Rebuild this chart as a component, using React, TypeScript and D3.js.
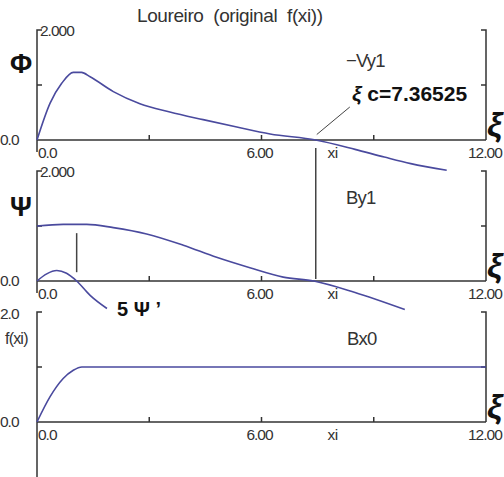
import React, { useEffect, useRef } from 'react';
import * as d3 from 'd3';

// -Vy1 (panel Phi)
const vy1Xi = [0, 0.35, 0.66, 0.97, 1.19, 1.42, 2.04, 2.75, 3.55, 4.44, 5.34, 6.23, 7.45, 8.5, 9.28, 9.99, 10.95];
const vy1Val = [0, 0.67, 1.03, 1.23, 1.23, 1.15, 0.88, 0.66, 0.51, 0.37, 0.235, 0.11, 0, -0.17, -0.31, -0.43, -0.55];

// By1 (panel Psi)
const by1Xi = [0, 0.7, 1.33, 2.04, 2.93, 3.91, 4.8, 5.69, 6.58, 7.4, 8.5, 9.83];
const by1Val = [1.0, 1.03, 1.03, 0.97, 0.855, 0.65, 0.43, 0.24, 0.07, 0, -0.21, -0.52];

// 5 Psi'
const psiP5Xi = [0, 0.26, 0.53, 0.79, 1.06, 1.42, 1.87];
const psiP5Val = [0, 0.13, 0.19, 0.14, 0, -0.26, -0.5];

// Bx0 = f(xi)
const fXi = [0, 0.35, 0.7, 0.97, 1.2, 12];
const fVal = [0, 0.46, 0.79, 0.94, 1.0, 1.0];

const xiC = 7.36525;
const crossMarkXi = 7.45; // where the vertical marker sits in the picture
const peakMarkXi = 1.06;
const xTicks = [3, 6, 9];

const W = 504;
const H = 477;

const App: React.FC = () => {
  const svgRef = useRef<SVGSVGElement | null>(null);

  useEffect(() => {
    if (!svgRef.current) return;
    const svg = d3.select(svgRef.current);
    svg.selectAll('*').remove();

    const x = d3.scaleLinear().domain([0, 12]).range([37, 486]);
    const tops = [30, 171, 312];
    const ph = 110;
    const ys = tops.map(t => d3.scaleLinear().domain([0, 2]).range([t + ph, t]));

    const axisColor = '#333';
    const curveColor = '#4a4a9e';
    const font = '"Liberation Sans", Arial, sans-serif';

    const line = (ys: d3.ScaleLinear<number, number>) =>
      d3.line<[number, number]>()
        .x(d => x(d[0]))
        .y(d => ys(d[1]))
        .curve(d3.curveMonotoneX);

    const txt = (px: number, py: number, s: string, size: number, opts: any = {}) => {
      const t = svg.append('text')
        .attr('x', px)
        .attr('y', py)
        .attr('font-family', font)
        .attr('font-size', size)
        .attr('fill', opts.fill || '#333')
        .attr('font-weight', opts.bold ? 'bold' : 'normal')
        .attr('text-anchor', opts.anchor || 'start')
        .style('white-space', 'pre')
        .text(s);
      if (opts.italic) t.attr('font-style', 'italic');
      if (opts.ls !== undefined) t.attr('letter-spacing', opts.ls);
      return t;
    };

    // title
    txt(137, 22, 'Loureiro  (original  f(xi))', 19, { ls: -0.4 });

    ys.forEach((y, i) => {
      const g = svg.append('g')
        .attr('stroke', axisColor)
        .attr('stroke-width', 1.5)
        .attr('fill', 'none');
      const base = y(0);
      const top = y(2);
      const bottomExt = i === 2 ? H : base + 12;
      // left axis
      g.append('path').attr('d', `M${x(0) + 5},${top}H${x(0)}V${bottomExt}`);
      g.append('line').attr('x1', x(0)).attr('x2', x(0) + 5).attr('y1', y(1)).attr('y2', y(1));
      // right axis
      g.append('path').attr('d', `M${x(12) - 5},${top}H${x(12)}V${base}`);
      g.append('line').attr('x1', x(12)).attr('x2', x(12) - 5).attr('y1', y(1)).attr('y2', y(1));
      // x axis
      g.append('line').attr('x1', x(0)).attr('x2', x(12)).attr('y1', base).attr('y2', base);
      g.selectAll('line.tick')
        .data(xTicks)
        .join('line')
        .attr('class', 'tick')
        .attr('x1', d => x(d)).attr('x2', d => x(d))
        .attr('y1', base).attr('y2', base - 5);

      // tick labels
      if (i < 2) {
        txt(x(0) + 3, top + 6, '2.000', 15.5, { ls: -1 });
      } else {
        txt(0, top + 7, '2.0', 15.5, { ls: -1 });
      }
      txt(0, base + 5, '0.0', 15.5, { ls: -1 });
      txt(x(0) + 1, base + 18, '0.0', 15.5, { ls: -1 });
      txt(x(6) - 2, base + 18, '6.00', 15.5, { anchor: 'middle', ls: -1 });
      txt(x(7.9), base + 18, 'xi', 15.5, { anchor: 'middle', ls: -0.5 });
      txt(x(12) - 18, base + 18, '12.00', 15.5, { ls: -1 });
      // xi symbol at the right
      txt(x(12) + 1, base - 4, 'ξ', 34, { bold: true, italic: true, fill: '#111' });
    });

    // axis name labels
    txt(21, 73, 'Φ', 27, { bold: true, anchor: 'middle', fill: '#111' });
    txt(21, 216, 'Ψ', 27, { bold: true, anchor: 'middle', fill: '#111' });
    txt(5, 344, 'f(xi)', 16, { ls: -0.8 });

    // series names
    txt(346, 67, '−Vy1', 18.5, { ls: -0.8 });
    txt(346, 204, 'By1', 18.5, { ls: -0.8 });
    txt(347, 345, 'Bx0', 18.5, { ls: -0.8 });

    // marker lines
    const markG = svg.append('g').attr('stroke', '#444').attr('stroke-width', 1.5);
    markG.append('line')
      .attr('x1', x(crossMarkXi)).attr('x2', x(crossMarkXi))
      .attr('y1', ys[0](0) + 8).attr('y2', ys[1](0) - 2);
    markG.append('line')
      .attr('x1', x(peakMarkXi)).attr('x2', x(peakMarkXi))
      .attr('y1', ys[1](0.87)).attr('y2', ys[1](0.16));
    // leader to the crossing label
    markG.append('line')
      .attr('x1', x(crossMarkXi) + 1).attr('y1', ys[0](0.1))
      .attr('x2', x(8.36)).attr('y2', ys[0](0.6))
      .attr('stroke-width', 1);

    // curves
    const curves: [number[], number[], number][] = [
      [vy1Xi, vy1Val, 0],
      [by1Xi, by1Val, 1],
      [psiP5Xi, psiP5Val, 1],
      [fXi, fVal, 2],
    ];
    curves.forEach(([xs, vs, p]) => {
      const pts = xs.map((v, k) => [v, vs[k]] as [number, number]);
      svg.append('path')
        .attr('d', line(ys[p])(pts))
        .attr('fill', 'none')
        .attr('stroke', curveColor)
        .attr('stroke-width', 1.6);
    });

    // bold annotations
    const c = txt(352, 101, '', 21, { bold: true, fill: '#111' });
    c.append('tspan').attr('font-style', 'italic').text('ξ');
    c.append('tspan').text(' c=' + xiC.toFixed(5));
    txt(117, 316, '5 Ψ \u2019', 20, { bold: true, fill: '#111' });
  }, []);

  return (
    <svg
      ref={svgRef}
      width={W}
      height={H}
      style={{ position: 'absolute', left: 0, top: 0, background: '#fff' }}
    />
  );
};

export default App;
